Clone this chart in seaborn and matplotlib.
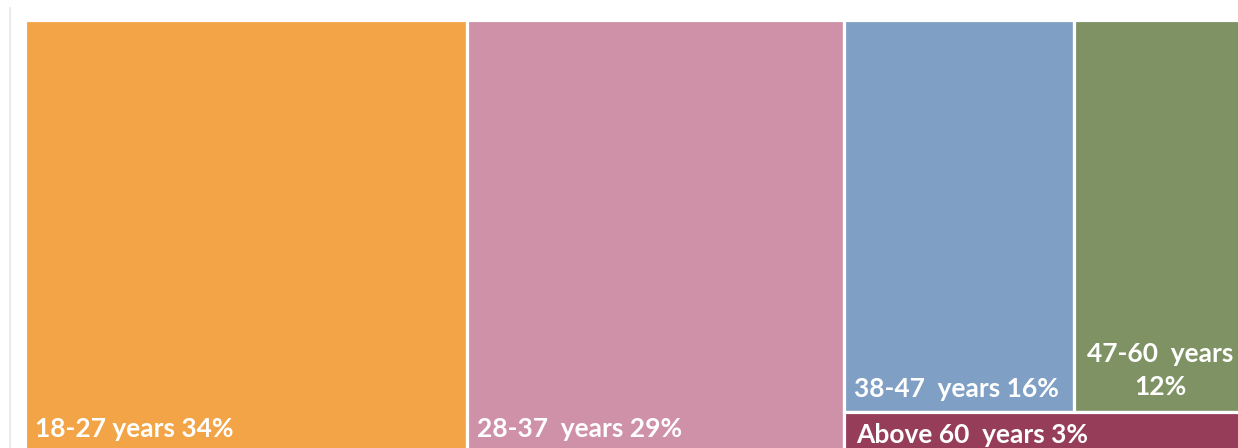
import matplotlib
matplotlib.use("Agg")
import matplotlib.pyplot as plt
import matplotlib.transforms as mtrans
from matplotlib.patches import Rectangle
import seaborn as sns

# age groups and their share of respondents (%)
labels = ["18-27 years 34%", "28-37  years 29%", "38-47  years 16%",
          "47-60  years\n12%", "Above 60  years 3%"]
shares = [34, 29, 16, 12, 3]
colors = ["#F2A446", "#CF91A7", "#7F9FC4", "#7F9263", "#963D5A"]

sns.set_theme(style="white")
plt.rcParams["font.family"] = ["Lato", "DejaVu Sans"]
pal = sns.color_palette(colors)

fig = plt.figure(figsize=(12.38, 4.48), dpi=100)
ax = fig.add_axes([25 / 1238, -6 / 448, 1222 / 1238, 434 / 448])
total = sum(shares)
ax.set_xlim(0, total)
ax.set_ylim(0, 1)
ax.axis("off")

# layout: first two groups are full-height columns, the rest share one column
# (top row = items 2 and 3, bottom strip = item 4)
rects = []
x0 = 0
for v in shares[:2]:
    rects.append((x0, 0, v, 1))
    x0 += v
col_w = total - x0
col_sum = sum(shares[2:])
top_sum = shares[2] + shares[3]
strip_h = shares[4] / col_sum
xx = x0
for v in shares[2:4]:
    w = col_w * v / top_sum
    rects.append((xx, strip_h, w, 1 - strip_h))
    xx += w
rects.append((x0, 0, col_w, strip_h))

for (x, y, w, h), c in zip(rects, pal):
    ax.add_patch(Rectangle((x, y), w, h, facecolor=c, edgecolor="white",
                           linewidth=2.3))

def shift(dx, dy):
    return ax.transData + mtrans.ScaledTranslation(dx / 100, dy / 100,
                                                   fig.dpi_scale_trans)

fs = 19
offsets = [(10, 17), (10, 17), (10, 15), (None, 17), (12, 11)]
for (x, y, w, h), lab, (dx, dy) in zip(rects, labels, offsets):
    if dx is None:
        ax.text(x + w / 2, y, lab, transform=shift(0, dy), ha="center",
                va="baseline", multialignment="center", color="white",
                fontsize=fs, fontweight="bold", linespacing=1.45)
    else:
        ax.text(x, y, lab, transform=shift(dx, dy), ha="left",
                va="baseline", color="white", fontsize=fs,
                fontweight="bold")

# faint frame line on the left
fig.add_artist(plt.Line2D([10 / 1238, 10 / 1238], [0, 1 - 8 / 448],
                          transform=fig.transFigure, color="#ebebeb",
                          linewidth=1.5))

fig.savefig("out.png", dpi=100)
